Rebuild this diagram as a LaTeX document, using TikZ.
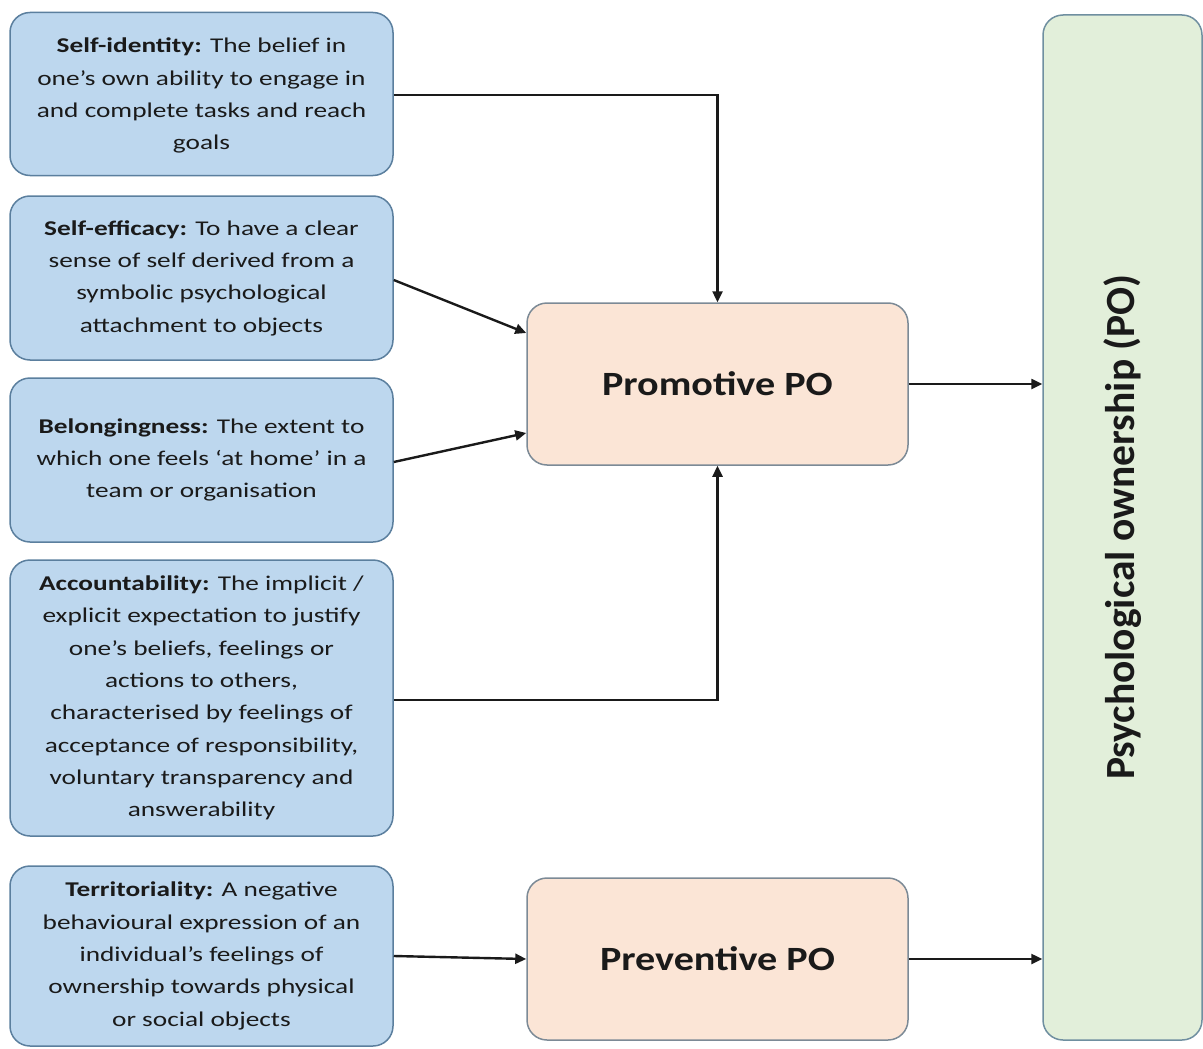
\documentclass[tikz,border=0pt]{standalone}
\usepackage{fontspec}
\setmainfont[FakeStretch=1.3]{Carlito}
\newfontfamily\titlefont[FakeStretch=1.18]{Carlito}
\newfontfamily\labelfont{Carlito}
\usetikzlibrary{arrows.meta,calc}
\definecolor{bluefill}{HTML}{BDD7EE}
\definecolor{blueline}{HTML}{5B7F9E}
\definecolor{peachfill}{HTML}{FBE5D6}
\definecolor{peachline}{HTML}{7C8A96}
\definecolor{greenfill}{HTML}{E2EFDA}
\definecolor{greenline}{HTML}{6F8FA0}
\definecolor{ink}{HTML}{1A1A1A}
\tikzset{
  factor/.style={draw=blueline, fill=bluefill, line width=1.5pt, rounded corners=20pt,
    minimum width=383pt, align=center, text=ink, inner sep=0pt,
    font=\fontsize{21}{32.3}\selectfont},
  poform/.style={draw=peachline, fill=peachfill, line width=1.5pt, rounded corners=20pt,
    minimum width=381pt, minimum height=162pt, text=ink,
    font=\titlefont\fontsize{34}{40}\selectfont\bfseries},
  outcome/.style={draw=greenline, fill=greenfill, line width=1.5pt, rounded corners=20pt,
    minimum width=159pt, minimum height=1025pt, text=ink},
  link/.style={line width=2.4pt, ink, -{Triangle[length=11pt,width=10pt]}}
}
\begin{document}
\begin{tikzpicture}[x=1pt,y=-1pt]
\useasboundingbox (0,0) rectangle (1203,1049);
% antecedent factors
\node[factor, minimum height=163pt, text depth=0pt] (sid) at (201.5,94)
  {\textbf{Self-identity:} The belief in\\one’s own ability to engage in\\and complete tasks and reach\\goals};
\node[factor, minimum height=164pt] (seff) at (201.5,278)
  {\textbf{Self-efficacy:} To have a clear\\sense of self derived from a\\symbolic psychological\\attachment to objects};
\node[factor, minimum height=164pt] (bel) at (201.5,460)
  {\textbf{Belongingness:} The extent to\\which one feels ‘at home’ in a\\team or organisation};
\node[factor, minimum height=276pt] (acc) at (201.5,698)
  {\textbf{Accountability:} The implicit /\\explicit expectation to justify\\one’s beliefs, feelings or\\actions to others,\\characterised by feelings of\\acceptance of responsibility,\\voluntary transparency and\\answerability};
\node[factor, minimum height=180pt] (ter) at (201.5,956)
  {\textbf{Territoriality:} A negative\\behavioural expression of an\\individual’s feelings of\\ownership towards physical\\or social objects};
% forms of ownership
\node[poform] (pro) at (717.5,384) {Promotive PO};
\node[poform] (pre) at (717.5,959) {Preventive PO};
% overall construct
\node[outcome] (psy) at (1122.5,527.5) {};
\node[rotate=90, text=ink, font=\labelfont\fontsize{41.5}{46}\selectfont\bfseries] (psylabel) at (psy.center) {Psychological ownership (PO)};
% connectors
\coordinate (sidout) at ($(sid.east)+(0,1)$);
\draw[link] (sidout) -| (pro.north);
\coordinate (seffout) at ($(seff.east)+(0,2)$);
\coordinate (seffin) at ($(pro.west)+(0,-51)$);
\draw[link] (seffout) -- (seffin);
\coordinate (belout) at ($(bel.east)+(0,2)$);
\coordinate (belin) at ($(pro.west)+(0,49)$);
\draw[link] (belout) -- (belin);
\coordinate (accout) at ($(acc.east)+(0,2)$);
\draw[link] (accout) -| (pro.south);
\draw[link] (pro.east) -- (pro.east -| psy.west);
\draw[link] (ter.east) -- (pre.west);
\draw[link] (pre.east) -- (pre.east -| psy.west);
\end{tikzpicture}
\end{document}
